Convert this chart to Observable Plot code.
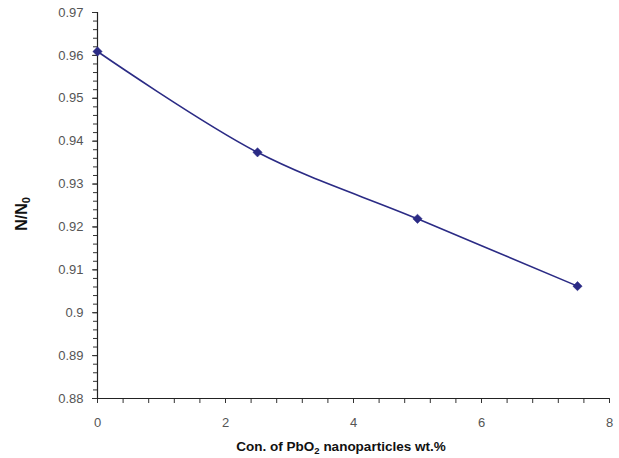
<!DOCTYPE html>
<html>
<head>
<meta charset="utf-8">
<script src="https://cdn.jsdelivr.net/npm/d3@7"></script>
<script src="https://cdn.jsdelivr.net/npm/@observablehq/plot@0.6"></script>
<style>
  html, body { margin: 0; padding: 0; background: #fff; }
  #chart svg { display: block; }
</style>
</head>
<body>
<div id="chart"></div>
<script>
const concentrations = [0, 2.5, 5, 7.5];
const ratios = [0.9609, 0.9374, 0.9219, 0.9062];
const xMajorTicks = [0, 2, 4, 6, 8];
const xMinorTicks = d3.range(0, 8.0001, 0.4).map(v => +v.toFixed(2));
const yMajorTicks = [0.88, 0.89, 0.9, 0.91, 0.92, 0.93, 0.94, 0.95, 0.96, 0.97];
const yMinorTicks = d3.range(0.88, 0.97001, 0.002).map(v => +v.toFixed(3));
const yTickLabels = ["0.88", "0.89", "0.9", "0.91", "0.92", "0.93", "0.94", "0.95", "0.96", "0.97"];

const data = concentrations.map((c, i) => ({c, r: ratios[i]}));
const color = "#2b2b85";

const plot = Plot.plot({
  width: 619,
  height: 458,
  marginLeft: 97,
  marginRight: 10,
  marginTop: 12,
  marginBottom: 60,
  style: {fontFamily: "Liberation Sans, Arial, sans-serif", fontSize: "13px", color: "#444"},
  x: {domain: [0, 8], label: null},
  y: {domain: [0.88, 0.97], label: null},
  marks: [
    Plot.axisX(xMinorTicks, {tickSize: 5, text: null, stroke: "#333", label: null}),
    Plot.axisX(xMajorTicks, {tickSize: 5, tickPadding: 14, stroke: "#333", fill: "#555", label: null, fontSize: 13}),
    Plot.axisY(yMinorTicks, {tickSize: 4, text: null, stroke: "#333", label: null}),
    Plot.axisY(yMajorTicks, {tickSize: 5, tickPadding: 9, stroke: "#333", fill: "#555", label: null, fontSize: 13,
      tickFormat: (d) => yTickLabels[yMajorTicks.indexOf(d)]}),
    Plot.ruleY([0.88], {stroke: "#222", strokeWidth: 1.2}),
    Plot.ruleX([0], {stroke: "#222", strokeWidth: 1.2}),
    Plot.line(data, {x: "c", y: "r", curve: "catmull-rom", stroke: color, strokeWidth: 1.6}),
    Plot.dot(data, {x: "c", y: "r", symbol: "diamond2", r: 4.2, fill: color, stroke: color, strokeWidth: 0.5})
  ]
});

const svg = d3.select(plot);
const xl = svg.append("text")
  .attr("x", 341).attr("y", 451)
  .attr("text-anchor", "middle")
  .attr("font-family", "Liberation Sans, Arial, sans-serif")
  .attr("font-size", 13.5).attr("font-weight", "bold").attr("fill", "#111");
xl.append("tspan").text("Con. of PbO");
xl.append("tspan").attr("font-size", 9.5).attr("dy", 3).text("2");
xl.append("tspan").attr("dy", -3).text(" nanoparticles wt.%");

const yl = svg.append("text")
  .attr("transform", "translate(27,214) rotate(-90)")
  .attr("text-anchor", "middle")
  .attr("font-family", "Liberation Sans, Arial, sans-serif")
  .attr("font-size", 16).attr("font-weight", "bold").attr("fill", "#111");
yl.append("tspan").text("N/N");
yl.append("tspan").attr("font-size", 11).attr("dy", 3).text("0");

document.getElementById("chart").appendChild(plot);
</script>
</body>
</html>
